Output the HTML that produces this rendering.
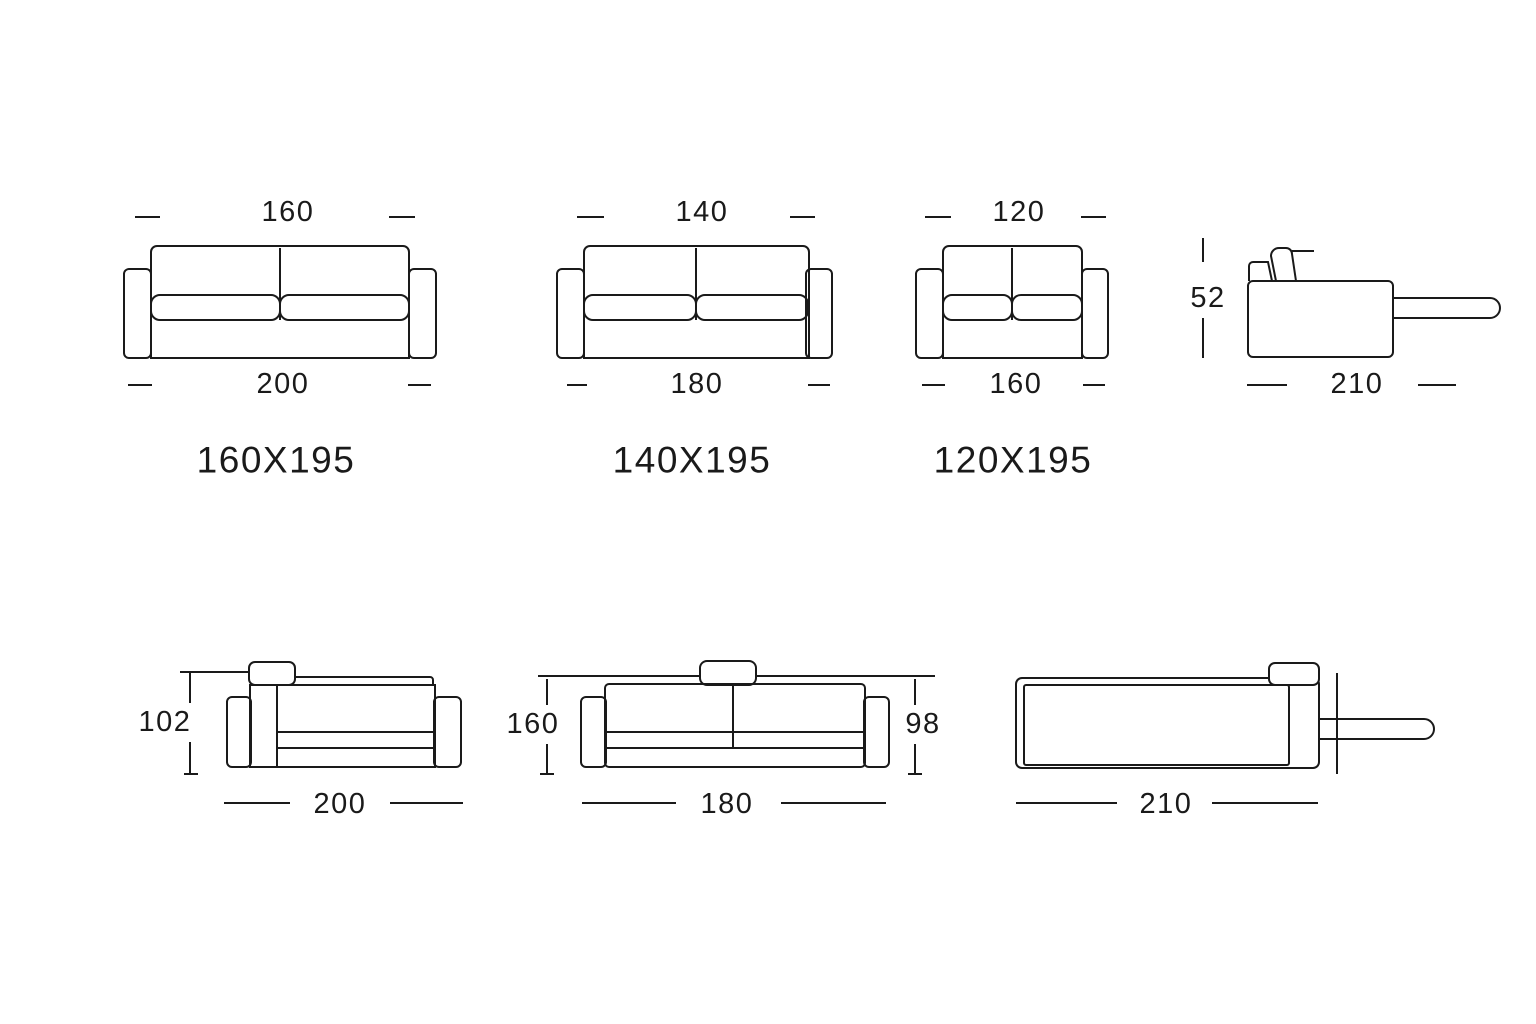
<!DOCTYPE html>
<html><head><meta charset="utf-8"><style>
html,body{margin:0;padding:0;background:#fff;}
svg{display:block}
text{font-family:"Liberation Sans",sans-serif;fill:#1a1a1a;text-anchor:middle;dominant-baseline:central}
.d{font-size:29px;letter-spacing:1.5px}
.l{font-size:37px;letter-spacing:1.5px}
</style></head><body>
<svg width="1536" height="1024" viewBox="0 0 1536 1024" xmlns="http://www.w3.org/2000/svg">
<g fill="none" stroke="#1a1a1a" stroke-width="2">
<!-- Sofa 1 -->
<rect x="124" y="269" width="27" height="89" rx="5"/>
<rect x="409" y="269" width="27" height="89" rx="5"/>
<path d="M151 358 V252 a6 6 0 0 1 6 -6 H403 a6 6 0 0 1 6 6 V358 Z"/>
<line x1="280" y1="248" x2="280" y2="320"/>
<rect x="151" y="295" width="129" height="25" rx="9"/>
<rect x="280" y="295" width="129" height="25" rx="9"/>
<line x1="135" y1="217" x2="160" y2="217"/><line x1="389" y1="217" x2="415" y2="217"/>
<line x1="128" y1="385" x2="152" y2="385"/><line x1="408" y1="385" x2="431" y2="385"/>
<!-- Sofa 2 -->
<rect x="557" y="269" width="27" height="89" rx="5"/>
<rect x="806" y="269" width="26" height="89" rx="5"/>
<path d="M584 358 V252 a6 6 0 0 1 6 -6 H803 a6 6 0 0 1 6 6 V358 Z"/>
<line x1="696" y1="248" x2="696" y2="320"/>
<rect x="584" y="295" width="112" height="25" rx="9"/>
<rect x="696" y="295" width="112" height="25" rx="9"/>
<line x1="577" y1="217" x2="604" y2="217"/><line x1="790" y1="217" x2="815" y2="217"/>
<line x1="567" y1="385" x2="587" y2="385"/><line x1="808" y1="385" x2="830" y2="385"/>
<!-- Sofa 3 -->
<rect x="916" y="269" width="27" height="89" rx="5"/>
<rect x="1082" y="269" width="26" height="89" rx="5"/>
<path d="M943 358 V252 a6 6 0 0 1 6 -6 H1076 a6 6 0 0 1 6 6 V358 Z"/>
<line x1="1012" y1="248" x2="1012" y2="320"/>
<rect x="943" y="295" width="69" height="25" rx="9"/>
<rect x="1012" y="295" width="70" height="25" rx="9"/>
<line x1="925" y1="217" x2="951" y2="217"/><line x1="1081" y1="217" x2="1106" y2="217"/>
<line x1="922" y1="385" x2="945" y2="385"/><line x1="1083" y1="385" x2="1105" y2="385"/>
<!-- Side view -->
<line x1="1203" y1="238" x2="1203" y2="262"/><line x1="1203" y1="318" x2="1203" y2="358"/>
<rect x="1248" y="281" width="145" height="76" rx="5"/>
<path d="M1249 281 V266 a4 4 0 0 1 4 -4 H1268 L1272 281"/>
<path d="M1276 281 L1271 256 a8 8 0 0 1 8 -8 H1286 a6 6 0 0 1 6 6 L1296 281"/>
<line x1="1292" y1="251" x2="1314" y2="251"/>
<path d="M1393 298 H1490 a10 10 0 0 1 0 20 H1393"/>
<line x1="1247" y1="385" x2="1287" y2="385"/><line x1="1418" y1="385" x2="1456" y2="385"/>
<!-- Bottom A -->
<line x1="190" y1="672" x2="190" y2="703"/><line x1="190" y1="742" x2="190" y2="774"/><line x1="184" y1="774" x2="198" y2="774"/>
<line x1="180" y1="672" x2="250" y2="672"/>
<rect x="249" y="662" width="46" height="23" rx="6"/>
<path d="M295 677 H430 a3 3 0 0 1 3 3 V685"/>
<rect x="227" y="697" width="24" height="70" rx="5"/>
<rect x="434" y="697" width="27" height="70" rx="5"/>
<rect x="250" y="685" width="27" height="82"/>
<rect x="277" y="685" width="158" height="82"/>
<line x1="277" y1="732" x2="435" y2="732"/><line x1="277" y1="748" x2="435" y2="748"/>
<line x1="224" y1="803" x2="290" y2="803"/><line x1="390" y1="803" x2="463" y2="803"/>
<!-- Bottom B -->
<line x1="538" y1="676" x2="700" y2="676"/><line x1="756" y1="676" x2="935" y2="676"/>
<rect x="700" y="661" width="56" height="24" rx="7"/>
<line x1="547" y1="679" x2="547" y2="705"/><line x1="547" y1="744" x2="547" y2="774"/><line x1="540" y1="774" x2="554" y2="774"/>
<line x1="915" y1="679" x2="915" y2="705"/><line x1="915" y1="744" x2="915" y2="774"/><line x1="908" y1="774" x2="922" y2="774"/>
<rect x="581" y="697" width="25" height="70" rx="5"/>
<rect x="864" y="697" width="25" height="70" rx="5"/>
<rect x="605" y="684" width="260" height="83" rx="4"/>
<line x1="733" y1="685" x2="733" y2="748"/>
<line x1="605" y1="732" x2="865" y2="732"/><line x1="605" y1="748" x2="865" y2="748"/>
<line x1="582" y1="803" x2="676" y2="803"/><line x1="781" y1="803" x2="886" y2="803"/>
<!-- Bottom C -->
<rect x="1016" y="678" width="303" height="90" rx="6"/>
<rect x="1024" y="685" width="265" height="80" rx="2"/>
<rect x="1269" y="663" width="50" height="22" rx="6" fill="#fff"/>
<path d="M1319 719 H1424 a10 10 0 0 1 0 20 H1319"/>
<line x1="1337" y1="673" x2="1337" y2="774"/>
<line x1="1016" y1="803" x2="1117" y2="803"/><line x1="1212" y1="803" x2="1318" y2="803"/>
</g>
<text class="d" x="288" y="212">160</text>
<text class="d" x="283" y="384">200</text>
<text class="d" x="702" y="212">140</text>
<text class="d" x="697" y="384">180</text>
<text class="d" x="1019" y="212">120</text>
<text class="d" x="1016" y="384">160</text>
<text class="d" x="1208" y="298">52</text>
<text class="d" x="1357" y="384">210</text>
<text class="l" x="276" y="460">160X195</text>
<text class="l" x="692" y="460">140X195</text>
<text class="l" x="1013" y="460">120X195</text>
<text class="d" x="165" y="722">102</text>
<text class="d" x="340" y="804">200</text>
<text class="d" x="533" y="724">160</text>
<text class="d" x="923" y="724">98</text>
<text class="d" x="727" y="804">180</text>
<text class="d" x="1166" y="804">210</text>
</svg>
</body></html>
